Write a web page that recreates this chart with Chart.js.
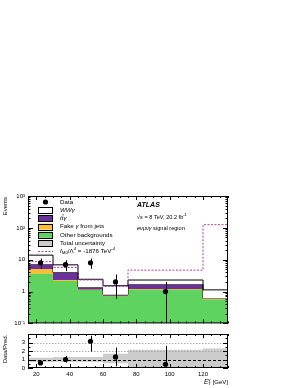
<!DOCTYPE html>
<html><head><meta charset="utf-8">
<script src="https://cdn.jsdelivr.net/npm/chart.js@4.4.0/dist/chart.umd.min.js"></script>
<style>
html,body{margin:0;padding:0;background:#fff;width:300px;height:388px;overflow:hidden}
canvas{position:absolute;left:0}
#c1{top:0}
#c2{top:330px}
</style></head><body>
<canvas id="c1" width="300" height="330"></canvas>
<canvas id="c2" width="300" height="58"></canvas>
<script>
// ---- data ----
const binEdges = [15, 30, 45, 60, 75, 120, 135];
const binCenters = [22.5, 37.5, 52.5, 67.5, 97.5];
const otherBkg = [3.6, 2.15, 1.12, 0.72, 1.17, 0.57];
const fakeGamma = [1.5, 0.15, 0.05, 0.02, 0.03, 0.01];
const ttGamma = [2.1, 1.7, 0.2, 0.06, 0.5, 0.03];
const wwGamma = [6.7, 2.9, 1.06, 0.72, 0.6, 0.52];
const aqgcFM0 = [8.7, 5.7, 2.3, 1.45, 4.7, 126];
const dataCounts = [8, 7, 8, 2, 1];
const dataErr = [2.83, 2.65, 2.83, 1.41, 1.0];
const ratioVals = [0.6, 1.0, 3.15, 1.3, 0.44];
const ratioErrUp = [0.2, 0.4, 0.64, 1.1, 2.16];
const ratioErrDown = [0.2, 0.37, 1.22, 1.1, 2.2];
const bandLow = [0.72, 0.74, 0.74, 0.55, 0, 0];
const bandHigh = [1.2, 1.3, 1.3, 1.67, 2.14, 2.3];
const xTickValues = [20, 40, 60, 80, 100, 120];
const yTickValues = [0.1, 1, 10, 100, 1000];
const yTickLabels = ['10\u207B\u00B9', '1', '10', '10\u00B2', '10\u00B3'];
const ratioTickValues = [0, 1, 2, 3];
const ratioTickLabels = ['0', '1', '2', '3'];

const COL = {green:'#5fd35f', orange:'#fbbd33', purple:'#6b2f9e', white:'#ffffff', band:'#cccccc', aqgc:'#b03cb0'};
const FF = '"Liberation Sans", Arial, sans-serif';
Chart.defaults.font.family = FF;
Chart.defaults.color = '#000';

const add = (a,b) => a.map((v,i)=>v+b[i]);
const s1 = otherBkg, s2 = add(s1, fakeGamma), s3 = add(s2, ttGamma), s4 = add(s3, wwGamma);
const step = vals => binEdges.map((e,i)=>({x:e, y:vals[Math.min(i, vals.length-1)]}));

function rich(ctx, x, y, segs, measureOnly){
  let cx = x;
  for (const s of segs){
    ctx.font = s.f;
    if (s.stack){
      const w1 = ctx.measureText(s.sup).width, w2 = ctx.measureText(s.sub).width;
      if(!measureOnly){ ctx.fillText(s.sup, cx, y - 2.6); ctx.fillText(s.sub, cx, y + 1.8); }
      cx += Math.max(w1,w2);
      continue;
    }
    if(!measureOnly) ctx.fillText(s.t, cx, y + (s.dy||0));
    cx += ctx.measureText(s.t).width;
  }
  return cx - x;
}

function frameTicks(chart, yMaj, yMin){
  const {ctx, chartArea:a, scales:{x,y}} = chart;
  ctx.save();
  ctx.strokeStyle = '#000'; ctx.lineWidth = 1;
  ctx.strokeRect(a.left+0.5, a.top+0.5, a.right-a.left-1, a.bottom-a.top-1);
  ctx.beginPath();
  for (let v = binEdges[0]; v <= binEdges[binEdges.length-1]; v += 5){
    const px = Math.round(x.getPixelForValue(v)) + 0.5;
    const L = (v % 20 === 0) ? 4 : 2;
    ctx.moveTo(px, a.bottom); ctx.lineTo(px, a.bottom - L);
    ctx.moveTo(px, a.top); ctx.lineTo(px, a.top + L);
  }
  yMaj.forEach(v=>{ const py = Math.round(y.getPixelForValue(v))+0.5;
    ctx.moveTo(a.left, py); ctx.lineTo(a.left+5, py); ctx.moveTo(a.right, py); ctx.lineTo(a.right-5, py); });
  yMin.forEach(v=>{ const py = Math.round(y.getPixelForValue(v))+0.5;
    ctx.moveTo(a.left, py); ctx.lineTo(a.left+2.5, py); ctx.moveTo(a.right, py); ctx.lineTo(a.right-2.5, py); });
  ctx.stroke();
  ctx.restore();
}

// ---------- upper panel ----------
const logMinor = [];
for (let d = -1; d < 3; d++) for (let k = 2; k <= 9; k++) logMinor.push(k*Math.pow(10,d));

const deco1 = {
  id:'deco1',
  afterDatasetsDraw(chart){
    const {ctx, chartArea:a, scales:{x,y}} = chart;
    ctx.save(); ctx.beginPath(); ctx.rect(a.left, a.top, a.right-a.left, a.bottom-a.top); ctx.clip();
    ctx.strokeStyle = '#000'; ctx.lineWidth = 1;
    binCenters.forEach((c,i)=>{
      const px = Math.round(x.getPixelForValue(c)) + 0.5;
      const lo = dataCounts[i] - dataErr[i];
      const yT = y.getPixelForValue(dataCounts[i] + dataErr[i]);
      const yB = lo > 0 ? y.getPixelForValue(lo) : a.bottom;
      ctx.beginPath(); ctx.moveTo(px, yT); ctx.lineTo(px, yB); ctx.stroke();
    });
    ctx.restore();
  },
  afterDraw(chart){
    const {ctx} = chart;
    frameTicks(chart, yTickValues, logMinor);
    ctx.save();
    ctx.fillStyle = '#000'; ctx.textBaseline = 'middle'; ctx.textAlign = 'left';
    ctx.save(); ctx.translate(5.5, 197); ctx.rotate(-Math.PI/2); ctx.textAlign = 'right';
    ctx.font = '6px ' + FF; ctx.fillText('Events', 0, 0); ctx.restore();
    const lx = 38, lw = 15, tx = 60, ly0 = 202, dy = 8.2;
    const nf = '6.2px ' + FF, itf = 'italic 6.2px ' + FF;
    const boxes = [null, COL.white, COL.purple, COL.orange, COL.green, COL.band, null];
    for (let i = 0; i < 7; i++){
      const yy = ly0 + i*dy;
      if (boxes[i]){
        ctx.fillStyle = boxes[i]; ctx.fillRect(lx, yy-3, lw, 6);
        ctx.strokeStyle = '#000'; ctx.lineWidth = 1; ctx.strokeRect(lx+0.5, Math.round(yy-3)+0.5, lw-1, 6);
      }
    }
    ctx.fillStyle = '#000';
    ctx.beginPath(); ctx.arc(lx+lw/2, ly0, 2.6, 0, 2*Math.PI); ctx.fill();
    const yA = ly0 + 6*dy;
    ctx.strokeStyle = COL.aqgc; ctx.lineWidth = 1; ctx.setLineDash([2,1.5]);
    ctx.beginPath(); ctx.moveTo(lx, Math.round(yA)+0.5); ctx.lineTo(lx+lw, Math.round(yA)+0.5); ctx.stroke();
    ctx.setLineDash([]);
    ctx.fillStyle = '#000';
    ctx.font = nf; ctx.fillText('Data', tx, ly0);
    ctx.font = itf; ctx.fillText('WW\u03B3', tx, ly0+dy);
    ctx.font = itf; ctx.fillText('tt\u03B3', tx, ly0+2*dy);
    const wt = ctx.measureText('t').width;
    ctx.strokeStyle = '#000'; ctx.lineWidth = 0.6;
    ctx.beginPath(); ctx.moveTo(tx+wt+0.6, ly0+2*dy-3.6); ctx.lineTo(tx+2*wt+0.6, ly0+2*dy-3.6); ctx.stroke();
    rich(ctx, tx, ly0+3*dy, [{t:'Fake ', f:nf},{t:'\u03B3', f:itf},{t:' from jets', f:nf}]);
    ctx.font = nf; ctx.fillText('Other backgrounds', tx, ly0+4*dy);
    ctx.fillText('Total uncertainty', tx, ly0+5*dy);
    rich(ctx, tx, yA, [{t:'f', f:itf},{t:'M0', f:'4.4px '+FF, dy:1.5},{t:'/\u039B', f:nf},{t:'4', f:'4.4px '+FF, dy:-2.2},
      {t:' = -1876 TeV', f:nf},{t:'-4', f:'4.4px '+FF, dy:-2.2}]);
    const rx = 137;
    ctx.font = 'italic bold 7px ' + FF; ctx.fillText('ATLAS', rx, 205.5);
    const sf = '5.6px ' + FF, sif = 'italic 5.6px ' + FF;
    rich(ctx, rx, 217, [{t:'\u221A', f:sf},{t:'s', f:sif},{t:' = 8 TeV, 20.2 fb', f:sf},{t:'-1', f:'4px '+FF, dy:-2}]);
    rich(ctx, rx, 228, [{t:'e\u03BD\u03BC\u03BD\u03B3', f:sif},{t:' signal region', f:sf}]);
    ctx.restore();
  }
};

new Chart(document.getElementById('c1'), {
  type:'line',
  data:{ datasets:[
    {label:'Other backgrounds', data:step(s1), stepped:true, borderColor:COL.green, borderWidth:0.8, backgroundColor:COL.green, fill:'start', pointRadius:0, order:5},
    {label:'Fake photon from jets', data:step(s2), stepped:true, borderColor:COL.orange, borderWidth:0.8, backgroundColor:COL.orange, fill:0, pointRadius:0, order:4},
    {label:'ttgamma', data:step(s3), stepped:true, borderColor:'#000', borderWidth:1, backgroundColor:COL.purple, fill:1, pointRadius:0, order:3},
    {label:'WWgamma', data:step(s4), stepped:true, borderColor:'#000', borderWidth:1, backgroundColor:COL.white, fill:2, pointRadius:0, order:2},
    {label:'fM0', data:step(aqgcFM0), stepped:true, borderColor:COL.aqgc, borderWidth:1, borderDash:[2,1.5], fill:false, pointRadius:0, order:1},
    {type:'scatter', label:'Data', data:binCenters.map((c,i)=>({x:c, y:dataCounts[i]})), pointRadius:2.6, pointBackgroundColor:'#000', pointBorderWidth:0, showLine:false, order:0}
  ]},
  options:{
    responsive:false, animation:false, events:[],
    layout:{padding:{top:196, right:72, left:0, bottom:2}},
    plugins:{legend:{display:false}, tooltip:{enabled:false}},
    scales:{
      x:{type:'linear', min:binEdges[0], max:binEdges[binEdges.length-1], display:false},
      y:{type:'logarithmic', min:yTickValues[0], max:yTickValues[yTickValues.length-1],
         afterBuildTicks:s=>{ s.ticks = yTickValues.map(v=>({value:v})); },
         afterFit:s=>{ s.width = 28; },
         grid:{display:false, drawTicks:false}, border:{display:false},
         ticks:{autoSkip:false, padding:3, font:{size:6}, callback:(v)=>{ const i = yTickValues.indexOf(v); return i>=0 ? yTickLabels[i] : ''; }}}
    }
  },
  plugins:[deco1]
});

// ---------- ratio panel ----------
const ratioMinor = [0.5, 1.5, 2.5, 3.5];
const deco2 = {
  id:'deco2',
  beforeDatasetDraw(chart, args){
    if (args.index !== 2) return;
    const {ctx, chartArea:a, scales:{y}} = chart;
    ctx.save();
    ctx.strokeStyle = '#999'; ctx.lineWidth = 0.8; ctx.setLineDash([1.5,1.5]);
    [2,3].forEach(v=>{ const py = Math.round(y.getPixelForValue(v))+0.5; ctx.beginPath(); ctx.moveTo(a.left, py); ctx.lineTo(a.right, py); ctx.stroke(); });
    ctx.strokeStyle = '#000'; ctx.lineWidth = 1.2; ctx.setLineDash([3,2]);
    const p1 = Math.round(y.getPixelForValue(1))+0.5;
    ctx.beginPath(); ctx.moveTo(a.left, p1); ctx.lineTo(a.right, p1); ctx.stroke();
    ctx.restore();
  },
  afterDatasetsDraw(chart){
    const {ctx, chartArea:a, scales:{x,y}} = chart;
    ctx.save(); ctx.beginPath(); ctx.rect(a.left, a.top, a.right-a.left, a.bottom-a.top); ctx.clip();
    ctx.strokeStyle = '#000'; ctx.lineWidth = 1;
    binCenters.forEach((c,i)=>{
      const px = Math.round(x.getPixelForValue(c)) + 0.5;
      ctx.beginPath();
      ctx.moveTo(px, y.getPixelForValue(ratioVals[i] + ratioErrUp[i]));
      ctx.lineTo(px, y.getPixelForValue(ratioVals[i] - ratioErrDown[i]));
      ctx.stroke();
    });
    ctx.restore();
  },
  afterDraw(chart){
    const {ctx, chartArea:a, scales:{y}} = chart;
    frameTicks(chart, [0,1,2,3,4], ratioMinor);
    ctx.save(); ctx.fillStyle = '#000'; ctx.textBaseline = 'middle';
    // ratio tick labels (drawn here because the short axis would auto-hide them)
    ctx.font = '6px ' + FF; ctx.textAlign = 'right';
    ratioTickValues.forEach((v,i)=>{ ctx.fillText(ratioTickLabels[i], a.left - 3, y.getPixelForValue(v)); });
    ctx.save(); ctx.translate(5.5, (a.top+a.bottom)/2 - 2); ctx.rotate(-Math.PI/2); ctx.textAlign = 'center';
    ctx.font = '6px ' + FF; ctx.fillText('Data/Pred.', 0, 0); ctx.restore();
    const segs = [{t:'E', f:'italic 6.5px '+FF},{stack:true, sup:'\u03B3', sub:'T', f:'4.4px '+FF},{t:' [GeV]', f:'6px '+FF}];
    const w = rich(ctx, 0, 0, segs, true);
    ctx.textAlign = 'left';
    rich(ctx, a.right - w, 52, segs);
    ctx.restore();
  }
};

new Chart(document.getElementById('c2'), {
  type:'line',
  data:{ datasets:[
    {label:'bandLow', data:step(bandLow), stepped:true, borderWidth:0, borderColor:'rgba(0,0,0,0)', fill:false, pointRadius:0, order:3},
    {label:'Total uncertainty', data:step(bandHigh), stepped:true, borderWidth:0, borderColor:'rgba(0,0,0,0)', backgroundColor:COL.band, fill:0, pointRadius:0, order:2},
    {type:'scatter', label:'Data/Pred.', data:binCenters.map((c,i)=>({x:c, y:ratioVals[i]})), pointRadius:2.6, pointBackgroundColor:'#000', pointBorderWidth:0, showLine:false, order:0}
  ]},
  options:{
    responsive:false, animation:false, events:[],
    layout:{padding:{top:2, right:72, left:0, bottom:0}},
    plugins:{legend:{display:false}, tooltip:{enabled:false}},
    scales:{
      x:{type:'linear', min:binEdges[0], max:binEdges[binEdges.length-1],
         afterBuildTicks:s=>{ s.ticks = xTickValues.map(v=>({value:v})); },
         afterFit:s=>{ s.height = 20; },
         grid:{display:false, drawTicks:false}, border:{display:false},
         ticks:{autoSkip:false, maxRotation:0, padding:2.5, font:{size:6}}},
      y:{type:'linear', min:0, max:4,
         afterBuildTicks:s=>{ s.ticks = ratioTickValues.map(v=>({value:v})); },
         afterFit:s=>{ s.width = 28; },
         grid:{display:false, drawTicks:false}, border:{display:false},
         ticks:{display:false}}
    }
  },
  plugins:[deco2]
});
</script>
</body></html>
